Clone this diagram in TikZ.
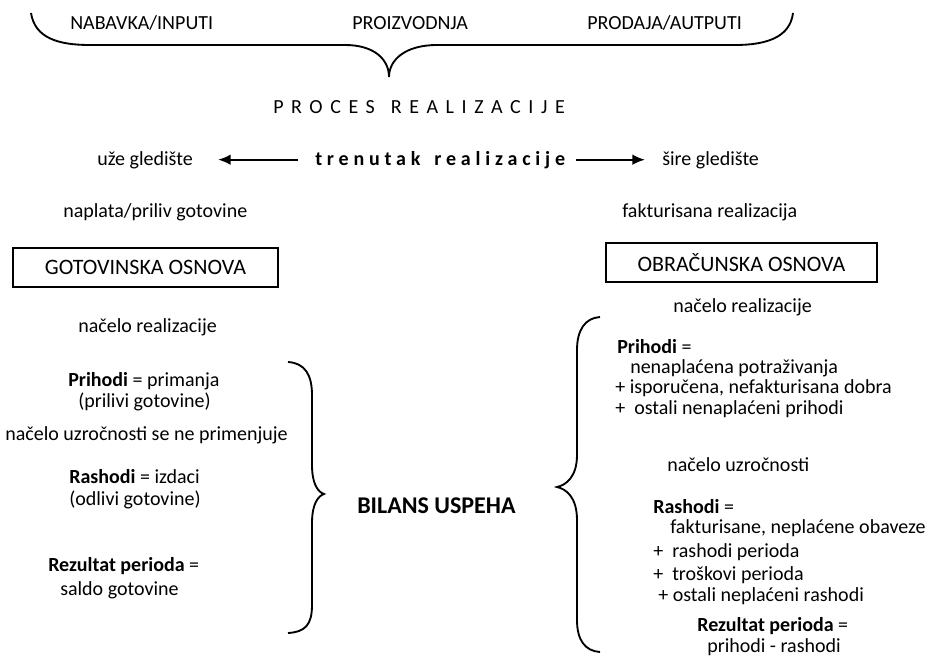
\documentclass[tikz,border=0pt]{standalone}
\usepackage{fontspec}
\setmainfont{Carlito}
\usetikzlibrary{arrows.meta}

\tikzset{
  txt/.style={anchor=base west, inner sep=0pt, font=\fontsize{15}{18}\selectfont},
  osnova/.style={draw, line width=1.1pt, inner sep=0pt, minimum height=29.25pt,
    font=\fontsize{16.5}{19}\selectfont},
  zagrada/.style={line width=1.4pt},
  strelica/.style={line width=1.5pt, -{Latex[length=9.5pt,width=8pt]}}
}

\begin{document}
\begin{tikzpicture}[x=0.75pt, y=-0.75pt]
\useasboundingbox (0,0) rectangle (931,658);

% ====================
% Top brace over the three phases
\draw[zagrada] (31,13) .. controls (35,38) and (58,45) .. (90,45) -- (345,45)
  .. controls (375,45) and (389,60) .. (389,77)
  .. controls (389,60) and (405,45) .. (437,45) -- (735,45)
  .. controls (765,45) and (790,38) .. (793,13);
\node[txt] (nabavka) at (70,29) {NABAVKA/INPUTI};
\node[txt] (proizvodnja) at (352,29) {PROIZVODNJA};
\node[txt] (prodaja) at (587,29) {PRODAJA/AUTPUTI};
\node[txt] (proces) at (273,113)
  {\addfontfeature{LetterSpace=38}PROCES\hspace{0.8em}REALIZACIJE};

% ====================
% Moment of realization, narrow and wide view
\node[txt] (uze) at (97,165) {uže gledište};
\node[txt, font=\fontsize{15}{18}\selectfont\bfseries] (trenutak) at (315,165)
  {\addfontfeature{LetterSpace=24}trenutak\hspace{0.7em}realizacije};
\node[txt] (sire) at (662,165) {šire gledište};
\draw[strelica, shorten <=12.75pt, shorten >=18.75pt]
  (trenutak.west) -- (trenutak.west -| uze.east);
\draw[strelica, shorten <=8pt, shorten >=12.75pt]
  (trenutak.east) -- (trenutak.east -| sire.west);

\node[txt] (naplata) at (63,217) {naplata/priliv gotovine};
\node[txt] (fakturisana) at (622,217) {fakturisana realizacija};

% ====================
% The two bases
\node[osnova, minimum width=198.75pt] (gotovinska) at (145.5,267.5) {GOTOVINSKA OSNOVA};
\node[osnova, minimum width=203.25pt] (obracunska) at (741.5,262.5) {OBRAČUNSKA OSNOVA};

% ====================
% Cash basis (left)
\node[txt] (realizacijaL) at (78,332) {načelo realizacije};
\node[txt] (prihodiL) at (68,386) {\textbf{Prihodi} = primanja};
\node[txt] (priliviL) at (78,407) {(prilivi gotovine)};
\node[txt] (uzrocnostL) at (5,440) {načelo uzročnosti se ne primenjuje};
\node[txt] (rashodiL) at (69,483) {\textbf{Rashodi} = izdaci};
\node[txt] (odliviL) at (69,505) {(odlivi gotovine)};
\node[txt] (rezultatL) at (48,571) {\textbf{Rezultat perioda} =};
\node[txt] (saldoL) at (60,595) {saldo gotovine};

\draw[zagrada] (288,362) .. controls (305,363) and (312,375) .. (312,395) -- (312,465)
  .. controls (312,484) and (318,492) .. (324,494)
  .. controls (318,496) and (312,504) .. (312,523) -- (312,605)
  .. controls (312,625) and (305,632) .. (288,633);

% ====================
% Income statement in the middle
\node[txt, font=\fontsize{18}{22}\selectfont\bfseries] (bilans) at (357,513) {BILANS USPEHA};

% ====================
% Accrual basis (right)
\draw[zagrada] (600,317) .. controls (585,318) and (577,330) .. (577,350) -- (577,455)
  .. controls (577,477) and (566,485) .. (557,487)
  .. controls (566,489) and (577,497) .. (577,520) -- (577,620)
  .. controls (577,640) and (585,651) .. (600,652);

\node[txt] (realizacijaR) at (673,312) {načelo realizacije};
\node[txt] (prihodiR) at (617,353) {\textbf{Prihodi} =};
\node[txt] (potrazivanja) at (630,373) {nenaplaćena potraživanja};
\node[txt] (isporucena) at (615,393) {+ isporučena, nefakturisana dobra};
\node[txt] (ostaliP) at (615,414) {+\ \ ostali nenaplaćeni prihodi};
\node[txt] (uzrocnostR) at (667,471) {načelo uzročnosti};
\node[txt] (rashodiR) at (653,513) {\textbf{Rashodi} =};
\node[txt] (obaveze) at (670,533) {fakturisane, neplaćene obaveze};
\node[txt] (rashodiP) at (653,557) {+\ \ rashodi perioda};
\node[txt] (troskovi) at (653,580) {+\ \ troškovi perioda};
\node[txt] (ostaliR) at (658,601) {+ ostali neplaćeni rashodi};
\node[txt] (rezultatR) at (697,631) {\textbf{Rezultat perioda} =};
\node[txt] (razlika) at (707,652) {prihodi - rashodi};

\end{tikzpicture}
\end{document}
